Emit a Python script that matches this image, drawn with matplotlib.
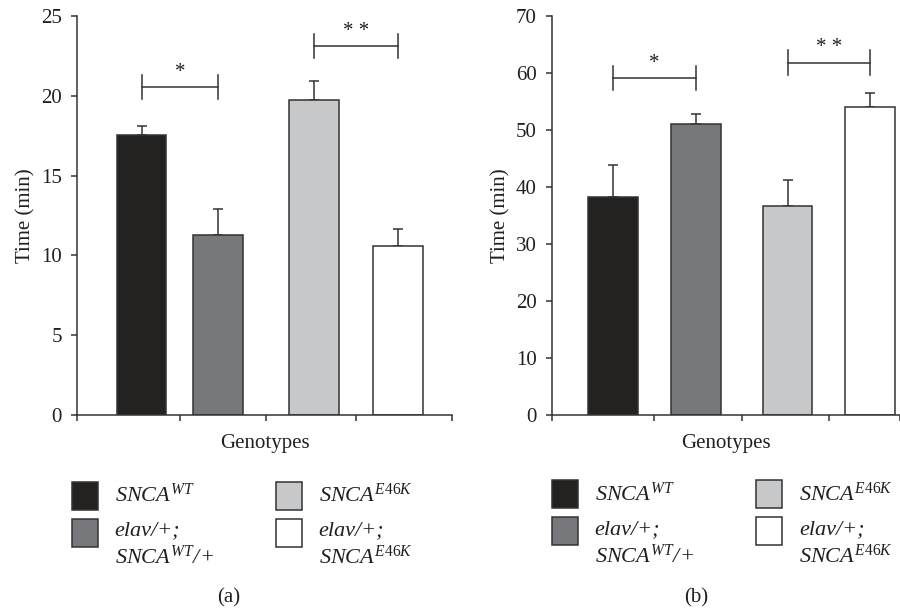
import matplotlib
matplotlib.use("Agg")
import matplotlib.pyplot as plt
from matplotlib.patches import Rectangle
import numpy as np

plt.rcParams['font.family'] = ['Liberation Serif', 'DejaVu Serif']
plt.rcParams['mathtext.fontset'] = 'custom'
plt.rcParams['mathtext.it'] = 'Liberation Serif:italic'
plt.rcParams['mathtext.rm'] = 'Liberation Serif'
plt.rcParams['mathtext.bf'] = 'Liberation Serif:bold'

# ---------------- data ----------------
genotype_labels = [[r'$SNCA^{WT}$'], ['elav/+;', r'$SNCA^{WT}$/+'],
                   [r'$SNCA^{E46K}$'], ['elav/+;', r'$SNCA^{E46K}$']]
bar_colors = ['#232220', '#77787c', '#c7c8ca', '#ffffff']

time_a = [17.55, 11.25, 19.75, 10.6]
err_a = [0.55, 1.65, 1.15, 1.08]
time_b = [38.2, 51.1, 36.6, 54.0]
err_b = [5.6, 1.75, 4.65, 2.5]

# significance: (bar i, bar j, label)
sig_pairs = [(0, 1, '*'), (2, 3, '* *')]
sig_y_a = [20.55, 23.1]
sig_y_b = [59.1, 61.8]

yticks_a = [0, 5, 10, 15, 20, 25]
yticks_b = [0, 10, 20, 30, 40, 50, 60, 70]

# ---------------- layout ----------------
W, H = 900, 612
fig = plt.figure(figsize=(9, 6.12), dpi=100)

def fx(px):
    return px / W

def fy(py):
    return 1 - py / H

axA = fig.add_axes([fx(77), fy(415), fx(375), 399 / H])
axB = fig.add_axes([fx(552), fy(415), fx(348), 399 / H])

pos_a = [1.72, 3.76, 6.31, 8.56]
pos_b = [1.75, 4.14, 6.77, 9.14]
edge = '#333333'
tc = '#231f20'
FS = 15


def draw(ax, pos, vals, errs, ymax, yticks, sig_y, width, bh, star_off):
    ax.bar(pos, vals, width=width, color=bar_colors, edgecolor=edge,
           linewidth=1.1, zorder=2)
    ax.errorbar(pos, vals, yerr=[np.zeros(len(vals)), errs], fmt='none',
                ecolor=edge, elinewidth=1.1, capsize=3.3, capthick=1.1,
                zorder=1)
    ax.set_xlim(0, 10)
    ax.set_ylim(0, ymax)
    ax.set_yticks(yticks)
    mids = [(pos[i] + pos[i + 1]) / 2 for i in range(len(pos) - 1)]
    ax.set_xticks([0] + mids + [10])
    ax.set_xticklabels([])
    for s in ['top', 'right']:
        ax.spines[s].set_visible(False)
    for s in ['left', 'bottom']:
        ax.spines[s].set_color(edge)
        ax.spines[s].set_linewidth(1.1)
    ax.tick_params(axis='both', direction='out', length=4, width=1.1,
                   color=edge, labelsize=FS, pad=7, labelcolor=tc)
    ax.set_xlabel('Genotypes', fontsize=FS, color=tc, labelpad=3)
    ax.set_ylabel('Time (min)', fontsize=FS, color=tc, labelpad=4)
    for (i, j, lab), y in zip(sig_pairs, sig_y):
        x0, x1 = pos[i], pos[j]
        ax.plot([x0, x1], [y, y], color=edge, lw=1.1, clip_on=False)
        ax.plot([x0, x0], [y - bh, y + bh], color=edge, lw=1.1, clip_on=False)
        ax.plot([x1, x1], [y - bh, y + bh], color=edge, lw=1.1, clip_on=False)
        ax.text((x0 + x1) / 2, y + star_off, lab, ha='center', va='center',
                fontsize=FS, color=tc)


draw(axA, pos_a, time_a, err_a, 25, yticks_a, sig_y_a, 1.33, 0.75, 0.9)
draw(axB, pos_b, time_b, err_b, 70, yticks_b, sig_y_b, 1.42, 2.15, 2.6)

# ---------------- legends (manual) ----------------
def legend(px_col1, px_col2, txt_off, rows_y, baselines):
    cols = [px_col1, px_col2]
    for k in range(4):
        c = 0 if k in (0, 1) else 1
        r = 0 if k in (0, 2) else 1
        x0 = cols[c]
        y_top = rows_y[r]
        fig.patches.append(Rectangle((fx(x0), fy(y_top + 28)), 26 / W, 28 / H,
                                     transform=fig.transFigure,
                                     facecolor=bar_colors[k], edgecolor=edge,
                                     linewidth=1.1))
        for li, line in enumerate(genotype_labels[k]):
            fig.text(fx(x0 + txt_off), fy(baselines[r][li]), line,
                     ha='left', va='baseline', fontsize=16, style='italic',
                     color=tc)

legend(71.7, 275.7, 43, [482, 519], [[502, 0], [535, 564]])
legend(551.7, 756, 43, [480, 517], [[501, 0], [534, 563]])

fig.text(fx(229), fy(598), '(a)', ha='center', va='center', fontsize=FS,
         color=tc)
fig.text(fx(696), fy(598), '(b)', ha='center', va='center', fontsize=FS,
         color=tc)

fig.savefig('out.png', dpi=100)
